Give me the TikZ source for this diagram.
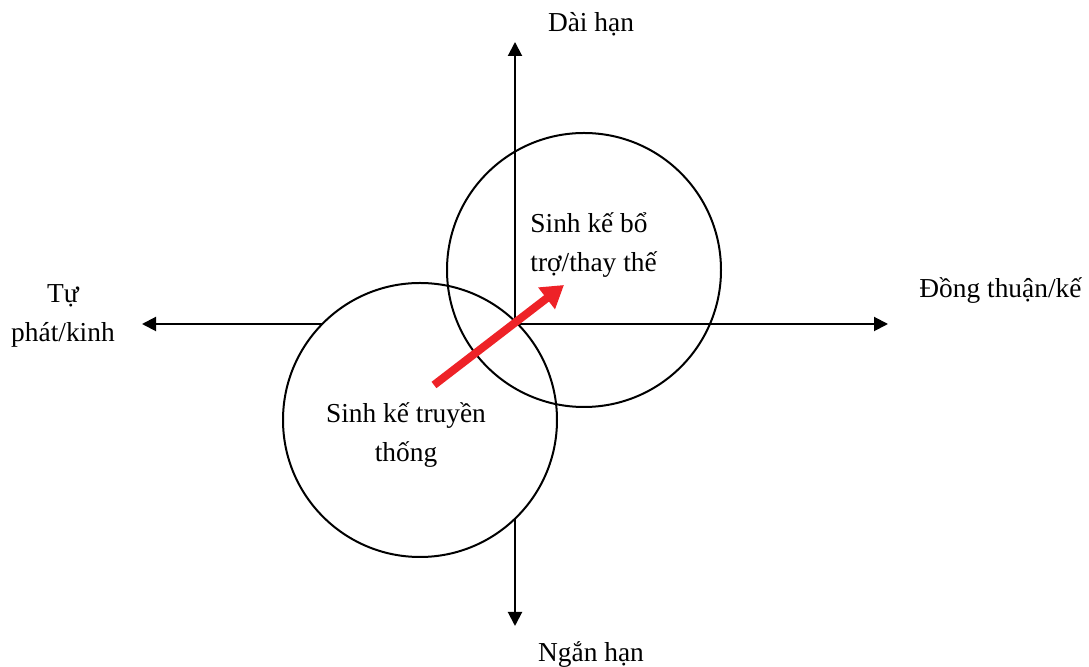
\documentclass[tikz,border=0pt]{standalone}
\usepackage{fontspec}
\setmainfont{Liberation Serif}
\usepackage{xcolor}
\definecolor{arrowred}{HTML}{EE2227}
\usepackage{tikz}
\usetikzlibrary{arrows.meta, positioning, calc}

\begin{document}
\begin{tikzpicture}[x=0.5pt, y=-0.5pt,
  label/.style={font=\fontsize{13.7}{19.5}\selectfont, inner sep=0pt, align=center},
  axis/.style={line width=1pt, -{Triangle[length=7pt, width=7pt]}},
  ring/.style={circle, draw, line width=1pt, minimum size=137pt, inner sep=0pt}]
  \useasboundingbox (0,0) rectangle (1089,667);
  % axes
  \coordinate (o) at (515,324);
  \coordinate (top) at (515,42);
  \coordinate (bottom) at (515,626);
  \coordinate (left) at (142,324);
  \coordinate (right) at (888,324);
  \draw[axis] (o) -- (top);
  \draw[axis] (o) -- (bottom);
  \draw[axis] (o) -- (left);
  \draw[axis] (o) -- (right);
  % circles
  \node[ring, fill=white] (old) at (420,420) {};
  \node[ring] (new) at (584,270) {};
  \coordinate (tail) at (434,385);
  \coordinate (head) at (564,285);
  \draw[arrowred, line width=4pt, -{Triangle[length=11pt, width=13pt]}] (tail) -- (head);
  % texts
  \node[label, anchor=base] (long) at (591,32) {Dài hạn};
  \node[label, anchor=base] (short) at (591,662) {Ngắn hạn};
  \node[label, anchor=base] (selfa) at (63,303) {Tự};
  \node[label, anchor=base] (selfb) at (63,342) {phát/kinh};
  \node[label, anchor=base west] (agree) at (919,298) {Đồng thuận/kế};
  \node[label, anchor=base west] (newa) at (530,233) {Sinh kế bổ};
  \node[label, anchor=base west] (newb) at (530,272) {trợ/thay thế};
  \node[label, anchor=base] (olda) at (406,423) {Sinh kế truyền};
  \node[label, anchor=base] (oldb) at (406,462) {thống};
\end{tikzpicture}
\end{document}
